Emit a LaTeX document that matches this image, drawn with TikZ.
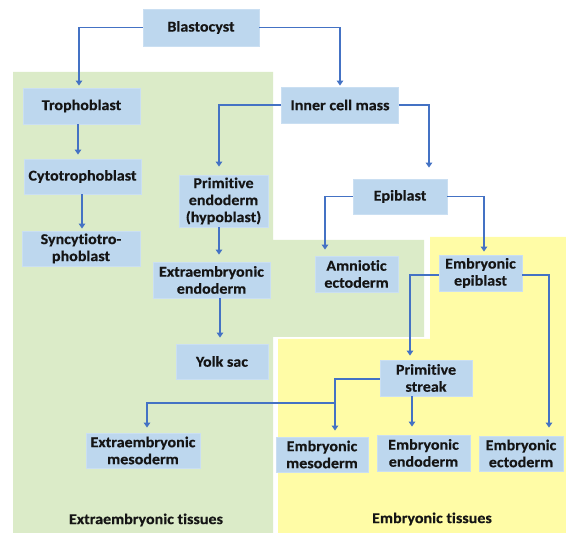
\documentclass[tikz,border=0pt]{standalone}
\usepackage{fontspec}
\setmainfont{Carlito}[FakeStretch=1.07, Ligatures=NoCommon,
  BoldFeatures={FakeBold=0.4}]
\usetikzlibrary{arrows.meta}

\definecolor{boxblue}{HTML}{BDD7EE}
\definecolor{boxedge}{HTML}{CADFF2}
\definecolor{linkblue}{HTML}{4472C4}
\definecolor{extragreen}{HTML}{DBEBC8}
\definecolor{embyellow}{HTML}{FFFCA6}
\definecolor{ink}{HTML}{151515}

\begin{document}
\begin{tikzpicture}[x=1pt,y=-1pt,
  cell/.style={fill=boxblue, draw=boxedge, line width=0.8pt, inner sep=0pt,
    align=center, text=ink, font=\fontsize{15}{17}\selectfont\bfseries},
  link/.style={draw=linkblue, line width=1.3pt,
    -{Triangle[width=6.5pt,length=5pt]}},
  caption/.style={text=ink, font=\fontsize{15}{17}\selectfont\bfseries}]

\useasboundingbox (0,0) rectangle (566,534);

% tissue regions
\fill[extragreen] (13,72) -- (273,72) -- (273,240) -- (424,240) -- (424,337)
  -- (273,337) -- (273,533) -- (13,533) -- cycle;
\fill[embyellow] (430,237) -- (566,237) -- (566,533) -- (278,533)
  -- (278,339) -- (430,339) -- cycle;

% cells
\node[cell, minimum width=116pt, minimum height=37pt] (blast) at (201,27.5) {Blastocyst};
\node[cell, minimum width=117pt, minimum height=36pt] (trop) at (81.5,106) {Trophoblast};
\node[cell, minimum width=117pt, minimum height=36pt] (icm) at (340,105) {Inner cell mass};
\node[cell, minimum width=117pt, minimum height=35pt] (cyto) at (82.5,176.5) {Cytotrophoblast};
\node[cell, minimum width=89pt, minimum height=52pt] (pe) at (223.5,201) {Primitive\\endoderm\\(hypoblast)};
\node[cell, minimum width=94pt, minimum height=35pt] (epi) at (400,196.5) {Epiblast};
\node[cell, minimum width=118pt, minimum height=35pt] (sync) at (81,248.5) {Syncytiotro-\\phoblast};
\node[cell, minimum width=117pt, minimum height=36pt] (ee) at (211.5,280) {Extraembryonic\\endoderm};
\node[cell, minimum width=83pt, minimum height=36pt] (amn) at (356.5,274) {Amniotic\\ectoderm};
\node[cell, minimum width=83pt, minimum height=36pt] (embepi) at (480.5,273) {Embryonic\\epiblast};
\node[cell, minimum width=92pt, minimum height=35pt] (yolk) at (222,361.5) {Yolk sac};
\node[cell, minimum width=92pt, minimum height=36pt] (ps) at (426,378) {Primitive\\streak};
\node[cell, minimum width=114pt, minimum height=35pt] (xmeso) at (143,450.5) {Extraembryonic\\mesoderm};
\node[cell, minimum width=92pt, minimum height=35pt] (emeso) at (322,454.5) {Embryonic\\mesoderm};
\node[cell, minimum width=93pt, minimum height=36pt] (eendo) at (423.5,453) {Embryonic\\endoderm};
\node[cell, minimum width=84pt, minimum height=35pt] (eecto) at (521,453.5) {Embryonic\\ectoderm};

% region captions
\node[caption] (extracap) at (146,520) {Extraembryonic tissues};
\node[caption] (embcap) at (432,519) {Embryonic tissues};

% lineage connectors
\draw[link, shorten >=2pt] (blast.west) -| ([xshift=-2.5pt]trop.north);
\draw[link, shorten >=1pt] (blast.east) -| (icm.north);
\draw[link, shorten >=4pt] ([xshift=-3.5pt]trop.south) -- ([xshift=-3.5pt]trop.south |- cyto.north);
\draw[link, shorten >=2pt] ([xshift=-0.5pt]cyto.south) -- ([xshift=-0.5pt]cyto.south |- sync.north);
\draw[link, shorten >=8pt] (icm.west) -| ([xshift=-4.5pt]pe.north);
\draw[link, shorten >=11pt] (icm.east) -| ([xshift=29pt]epi.north);
\draw[link, shorten >=7pt] ([xshift=-4.5pt]pe.south) -- ([xshift=-4.5pt]pe.south |- ee.north);
\draw[link, shorten >=6pt] (epi.west) -| ([xshift=-31.5pt]amn.north);
\draw[link, shorten >=3pt] (epi.east) -| ([xshift=3.5pt]embepi.north);
\draw[link, shorten >=6pt] ([xshift=8.5pt]ee.south) -- ([xshift=8.5pt]ee.south |- yolk.north);
\draw[link, shorten >=4pt] ([yshift=-2pt]embepi.west) -| ([xshift=-16pt]ps.north);
\draw[link, shorten >=8pt] ([yshift=-2pt]embepi.east) -| ([xshift=28pt]eecto.north);
\draw[link, shorten >=6pt] ([yshift=-1pt]ps.west) -| ([xshift=13pt]emeso.north);
\coordinate (split) at (335,403);
\draw[link, shorten >=5pt] (split) -| ([xshift=4pt]xmeso.north);
\draw[link, shorten >=8pt] ([xshift=-14pt]ps.south) -- ([xshift=-14pt]ps.south |- eendo.north);

\end{tikzpicture}
\end{document}
